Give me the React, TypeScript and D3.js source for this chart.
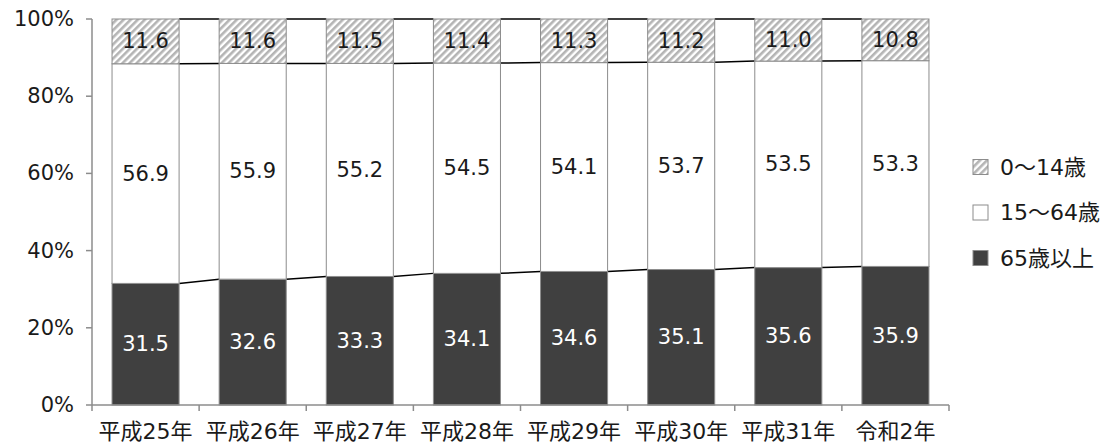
import React from "react";
import * as d3 from "d3";

const categories = ["平成25年", "平成26年", "平成27年", "平成28年", "平成29年", "平成30年", "平成31年", "令和2年"];
const age0to14 = [11.6, 11.6, 11.5, 11.4, 11.3, 11.2, 11.0, 10.8];
const age15to64 = [56.9, 55.9, 55.2, 54.5, 54.1, 53.7, 53.5, 53.3];
const age65plus = [31.5, 32.6, 33.3, 34.1, 34.6, 35.1, 35.6, 35.9];
const yTicks = [0, 20, 40, 60, 80, 100];
const legendLabels = ["0～14歳", "15～64歳", "65歳以上"];

const W = 1114;
const H = 443;
const FONT = "'DejaVu Sans', 'Noto Sans CJK JP', sans-serif";

export default function App() {
  const x = d3.scaleBand<string>().domain(categories).range([92, 949]).paddingInner(0.374).paddingOuter(0.187);
  const y = d3.scaleLinear().domain([0, 100]).range([405, 19]);
  const bw = x.bandwidth();
  const step = x.step();

  const stacks = categories.map((c, i) => {
    const b1 = age65plus[i];
    const b2 = b1 + age15to64[i];
    return { c, i, segs: [
      { key: "old", y0: 0, y1: b1, v: age65plus[i] },
      { key: "mid", y0: b1, y1: b2, v: age15to64[i] },
      { key: "young", y0: b2, y1: 100, v: age0to14[i] },
    ] };
  });

  const fillFor = (k: string) => (k === "old" ? "#404040" : k === "mid" ? "#ffffff" : "url(#hatch)");
  const textFor = (k: string) => (k === "old" ? "#ffffff" : "#1a1a1a");

  const lineTops = [
    categories.map((_, i) => age65plus[i]),
    categories.map((_, i) => age65plus[i] + age15to64[i]),
    categories.map(() => 100),
  ];

  return (
    <svg width={W} height={H} style={{ position: "absolute", left: 0, top: 0, background: "#fff" }} fontFamily={FONT}>
      <defs>
        <pattern id="hatch" patternUnits="userSpaceOnUse" width="5" height="5" patternTransform="rotate(45)">
          <rect width="5" height="5" fill="#ffffff" />
          <rect width="2.6" height="5" fill="#b4b4b4" />
        </pattern>
      </defs>

      {lineTops.map((arr, li) =>
        arr.slice(0, -1).map((v, i) => (
          <line key={`sl${li}-${i}`} x1={(x(categories[i]) as number) + bw} y1={y(v)}
            x2={x(categories[i + 1]) as number} y2={y(arr[i + 1])} stroke="#000" strokeWidth={1.5} />
        ))
      )}

      {stacks.map((s) =>
        s.segs.map((sg) => (
          <rect key={`${s.c}-${sg.key}`} x={x(s.c)} y={y(sg.y1)} width={bw} height={y(sg.y0) - y(sg.y1)}
            fill={fillFor(sg.key)} stroke="#8c8c8c" strokeWidth={1} />
        ))
      )}

      {stacks.map((s) =>
        s.segs.map((sg) => (
          <text key={`t${s.c}-${sg.key}`} x={(x(s.c) as number) + bw / 2} y={(y(sg.y0) + y(sg.y1)) / 2}
            textAnchor="middle" dominantBaseline="central" fontSize={21} fill={textFor(sg.key)}>
            {sg.v.toFixed(1)}
          </text>
        ))
      )}

      <line x1={92} y1={y(0)} x2={92} y2={y(100)} stroke="#8c8c8c" strokeWidth={1.5} />
      {yTicks.map((t) => (
        <g key={`yt${t}`}>
          <line x1={86} x2={92} y1={y(t)} y2={y(t)} stroke="#8c8c8c" strokeWidth={1.5} />
          <text x={74} y={y(t)} textAnchor="end" dominantBaseline="central" fontSize={21} fill="#1a1a1a">{t}%</text>
        </g>
      ))}

      <line x1={92} y1={y(0)} x2={949} y2={y(0)} stroke="#8c8c8c" strokeWidth={1.5} />
      {d3.range(categories.length + 1).map((k) => (
        <line key={`xt${k}`} x1={92 + k * step} x2={92 + k * step} y1={y(0)} y2={y(0) + 6} stroke="#8c8c8c" strokeWidth={1.5} />
      ))}
      {categories.map((c) => (
        <text key={`xl${c}`} x={(x(c) as number) + bw / 2} y={431} textAnchor="middle" dominantBaseline="central" fontSize={22} fill="#1a1a1a">{c}</text>
      ))}

      {legendLabels.map((lab, i) => {
        const cy = 167 + i * 45.5;
        const fill = i === 0 ? "url(#hatch)" : i === 1 ? "#ffffff" : "#404040";
        return (
          <g key={`lg${i}`}>
            <rect x={973} y={cy - 7.5} width={15} height={15} fill={fill} stroke="#8c8c8c" strokeWidth={1} />
            <text x={1000} y={cy} dominantBaseline="central" fontSize={22} fill="#1a1a1a">{lab}</text>
          </g>
        );
      })}
    </svg>
  );
}
